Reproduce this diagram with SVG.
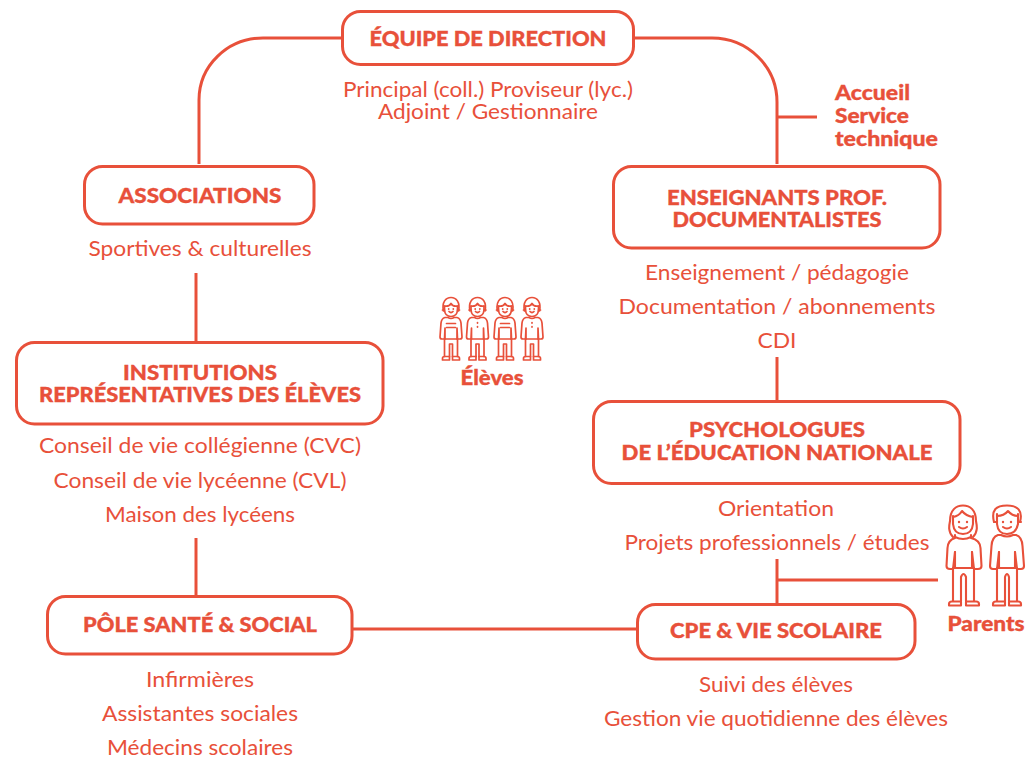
<svg xmlns="http://www.w3.org/2000/svg" width="1026" height="757" viewBox="0 0 1026 757">
<style>
text{font-family:"Lato","Noto Sans",sans-serif;fill:#e8503a;text-anchor:middle}
.t{font-size:21px;font-weight:900;stroke:#e8503a;stroke-width:.35}
.s{font-size:21px;font-weight:400}
.b{fill:#fff;stroke:#e8503a;stroke-width:3}
.c{fill:none;stroke:#e8503a;stroke-width:3}
.p{fill:none;stroke:#e8503a;stroke-width:1.7;stroke-linejoin:round;stroke-linecap:round}
.q{fill:none;stroke:#e8503a;stroke-width:2.100;stroke-linejoin:round;stroke-linecap:round}
.d{fill:#e8503a;stroke:none}
</style>
<defs>
<g id="kid">
<g class="p">
<path d="M-7.500 14C-9.500 5-5 .5 0 .5S9.500 5 7.500 14"/>
<path d="M-6.500 9Q-2 10 0 6.500Q2 10 6.500 9"/>
<path d="M-6.500 9V13Q-6 19.500 0 19.500T6.500 13V9"/>
<path d="M-2 14.500Q0 16.500 2 14.500"/>
<path d="M-8.500 13h2M6.500 13h2"/>
<path d="M-3 20.500H-6Q-9.500 21.500-10 26L-11 40Q-11 42-9 42H-6.500L-6 31V42M3 20.500H6Q9.500 21.500 10 26L11 40Q11 42 9 42H6.500L6 31V42M-3 20.500Q0 22.500 3 20.500"/>
<path d="M-6.500 42H6.500M-6.500 42V59.500M6.500 42V59.500M-1.500 59.500V47H1.500V59.500"/>
<path d="M-8.500 63V61.500Q-8.500 59.500-6.500 59.500H-1.500V63ZM8.500 63V61.500Q8.500 59.500 6.500 59.500H1.500V63Z"/>
</g>
<circle class="d" cx="-2.300" cy="12" r=".9"/><circle class="d" cx="2.300" cy="12" r=".9"/>
</g>
</defs>
<g id="connectors" class="c">
<path d="M342 38H263A64 62 0 0 0 199 100V164"/>
<path d="M634 38H712A65 64 0 0 1 777 102V164"/>
<path d="M777 117H817"/>
<path d="M196 273V342"/>
<path d="M196 538V596"/>
<path d="M777 357V401"/>
<path d="M777 559V604"/>
<path d="M777 580H938"/>
<path d="M352 629H637"/>
</g>
<g id="direction"><rect class="b" x="342.500" y="11.500" width="291" height="53" rx="18"/>
<text class="t" x="488" y="46" textLength="237" lengthAdjust="spacingAndGlyphs">ÉQUIPE DE DIRECTION</text>
<text class="s" x="488" y="97" textLength="290" lengthAdjust="spacingAndGlyphs">Principal (coll.) Proviseur (lyc.)</text>
<text class="s" x="488" y="119" textLength="220" lengthAdjust="spacingAndGlyphs">Adjoint / Gestionnaire</text></g>
<g id="accueil">
<text class="t" x="835" y="100" style="text-anchor:start" textLength="75" lengthAdjust="spacingAndGlyphs">Accueil</text>
<text class="t" x="835" y="123" style="text-anchor:start" textLength="74" lengthAdjust="spacingAndGlyphs">Service</text>
<text class="t" x="835" y="146" style="text-anchor:start" textLength="103" lengthAdjust="spacingAndGlyphs">technique</text></g>
<g id="associations"><rect class="b" x="84.500" y="166.500" width="229.500" height="57.500" rx="18"/>
<text class="t" x="200" y="203" textLength="163" lengthAdjust="spacingAndGlyphs">ASSOCIATIONS</text>
<text class="s" x="200" y="256" textLength="223" lengthAdjust="spacingAndGlyphs">Sportives &amp; culturelles</text></g>
<g id="enseignants"><rect class="b" x="613.500" y="166.500" width="326.500" height="81.500" rx="18"/>
<text class="t" x="777" y="205" textLength="220" lengthAdjust="spacingAndGlyphs">ENSEIGNANTS PROF.</text>
<text class="t" x="777" y="227" textLength="209" lengthAdjust="spacingAndGlyphs">DOCUMENTALISTES</text>
<text class="s" x="777" y="280" textLength="264" lengthAdjust="spacingAndGlyphs">Enseignement / pédagogie</text>
<text class="s" x="777" y="314" textLength="317" lengthAdjust="spacingAndGlyphs">Documentation / abonnements</text>
<text class="s" x="777" y="348" textLength="39" lengthAdjust="spacingAndGlyphs">CDI</text></g>
<g id="eleves">
<use href="#kid" x="451" y="297"/><use href="#kid" x="477.500" y="297"/><use href="#kid" x="505" y="297"/><use href="#kid" x="532" y="297"/>
<path class="p" d="M446.500 323.500h9M446.500 327.500h9M500.500 323.500h9M500.500 327.500h9M477.500 322.500v.6M477.500 326.500v.6M532 322.500v.6M532 326.500v.6"/>
<text class="t" x="492" y="385" textLength="63" lengthAdjust="spacingAndGlyphs">Élèves</text></g>
<g id="institutions"><rect class="b" x="16.500" y="342.500" width="366.500" height="81.500" rx="18"/>
<text class="t" x="200" y="380" textLength="154" lengthAdjust="spacingAndGlyphs">INSTITUTIONS</text>
<text class="t" x="200" y="402" textLength="322" lengthAdjust="spacingAndGlyphs">REPRÉSENTATIVES DES ÉLÈVES</text>
<text class="s" x="200" y="453" textLength="322" lengthAdjust="spacingAndGlyphs">Conseil de vie collégienne (CVC)</text>
<text class="s" x="200" y="488" textLength="293" lengthAdjust="spacingAndGlyphs">Conseil de vie lycéenne (CVL)</text>
<text class="s" x="200" y="522" textLength="190" lengthAdjust="spacingAndGlyphs">Maison des lycéens</text></g>
<g id="psychologues"><rect class="b" x="593.500" y="401.500" width="366.500" height="82" rx="18"/>
<text class="t" x="777" y="437" textLength="176" lengthAdjust="spacingAndGlyphs">PSYCHOLOGUES</text>
<text class="t" x="777" y="460" textLength="311" lengthAdjust="spacingAndGlyphs">DE L’ÉDUCATION NATIONALE</text>
<text class="s" x="776" y="516" textLength="116" lengthAdjust="spacingAndGlyphs">Orientation</text>
<text class="s" x="777" y="550" textLength="305" lengthAdjust="spacingAndGlyphs">Projets professionnels / études</text></g>
<g id="parents">
<g class="q">
<path d="M953 537C948 532 949 526 950 521C950 510 956 505.500 963 505.500S976 510 976 521C977 526 978 532 973 537"/>
<path d="M953 517Q959 516 962 511Q966 516 973 517"/>
<path d="M953 516V524Q954 534 963 534T973 524V516"/>
<path d="M959 527Q963 530 967 527"/>
<path d="M955 537Q963 541 971 537M955 535V537M971 535V537"/>
<path d="M955 538Q948 540 947.500 548L946.500 566Q946.500 569 950 569H953L955 552M971 538Q980 540 980.500 548L981.500 566Q981.500 569 978 569H974L972 552"/>
<path d="M955 552V567M972 552V567M953 568H974"/>
<path d="M953 569V601M974 569V601M961 601V577Q963.500 571 966 577V601"/>
<path d="M949 605.500V604Q949 601.500 952 601.500H961V605.500ZM979 605.500V604Q979 601.500 976 601.500H966V605.500Z"/>
<path d="M994 522C991 510 996 505.500 1007 505.500S1023 511 1020 522"/>
<path d="M997 516Q1004 516 1008 511Q1012 516 1018 516"/>
<path d="M997 514V524Q998 534 1007 534T1018 524V514"/>
<path d="M1003 527Q1007 530 1011 527"/>
<path d="M994 522H997M1018 522H1021"/>
<path d="M1001 535H998Q992 537 991.500 546L990 566Q990 569 993 569H997L999 552M1013 535H1016Q1022 537 1022.500 546L1024 566Q1024 569 1021 569H1017L1015 552M1001 535Q1007 538 1013 535"/>
<path d="M999 552V567M1015 552V567M997 568H1017"/>
<path d="M997 569V601M1017 569V601M1005 601V577Q1007 571 1009 577V601"/>
<path d="M993 605.500V604Q993 601.500 996 601.500H1005V605.500ZM1021 605.500V604Q1021 601.500 1018 601.500H1009V605.500Z"/>
</g>
<circle class="d" cx="959" cy="522" r="1.200"/><circle class="d" cx="967" cy="522" r="1.200"/>
<circle class="d" cx="1003" cy="522" r="1.200"/><circle class="d" cx="1011" cy="522" r="1.200"/>
<text class="t" x="986" y="631" textLength="77" lengthAdjust="spacingAndGlyphs">Parents</text></g>
<g id="pole"><rect class="b" x="47.500" y="596.500" width="304.500" height="57.500" rx="18"/>
<text class="t" x="200" y="632" textLength="234" lengthAdjust="spacingAndGlyphs">PÔLE SANTÉ &amp; SOCIAL</text>
<text class="s" x="200" y="687" textLength="108" lengthAdjust="spacingAndGlyphs">Infirmières</text>
<text class="s" x="200" y="721" textLength="196" lengthAdjust="spacingAndGlyphs">Assistantes sociales</text>
<text class="s" x="200" y="755" textLength="186" lengthAdjust="spacingAndGlyphs">Médecins scolaires</text></g>
<g id="cpe"><rect class="b" x="637.500" y="604.500" width="277.500" height="54.500" rx="18"/>
<text class="t" x="776" y="638" textLength="212" lengthAdjust="spacingAndGlyphs">CPE &amp; VIE SCOLAIRE</text>
<text class="s" x="776" y="692" textLength="154" lengthAdjust="spacingAndGlyphs">Suivi des élèves</text>
<text class="s" x="776" y="726" textLength="344" lengthAdjust="spacingAndGlyphs">Gestion vie quotidienne des élèves</text></g>
</svg>
